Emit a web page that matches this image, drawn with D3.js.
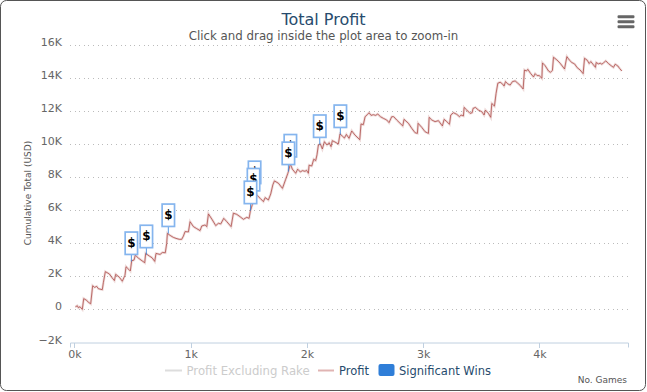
<!DOCTYPE html>
<html>
<head>
<meta charset="utf-8">
<script src="https://cdn.jsdelivr.net/npm/d3@7"></script>
<style>
  body { margin: 0; background: #fff; }
  text { font-family: "DejaVu Sans", sans-serif; }
  .tick line { shape-rendering: crispEdges; }
</style>
</head>
<body>
<div id="container"></div>
<script>
/* CONSTANTS AND DATA */
const width = 647;
const height = 392;

const yTicks = [-2000, 0, 2000, 4000, 6000, 8000, 10000, 12000, 14000, 16000];
const xTicks = [0, 1000, 2000, 3000, 4000];

// profit line
const games = [8,25,34,48,68,80,105,120,140,157,174,192,206,240,249,266,301,321,344,355,387,412,435,444,467,481,493,513,524,550,573,605,613,645,668,691,702,737,757,782,794,800,823,851,874,903,923,938,952,981,995,1024,1052,1081,1096,1124,1139,1153,1187,1216,1239,1259,1285,1311,1348,1368,1397,1425,1454,1483,1503,1514,1524,1532,1541,1550,1569,1598,1626,1641,1669,1689,1707,1721,1755,1790,1818,1835,1841,1858,1875,1904,1921,1944,1961,1984,1998,2013,2019,2042,2059,2076,2087,2099,2116,2133,2151,2173,2191,2208,2219,2242,2271,2285,2305,2323,2340,2363,2386,2414,2455,2466,2486,2501,2518,2535,2552,2572,2592,2610,2633,2658,2687,2707,2730,2747,2773,2802,2825,2836,2874,2902,2931,2951,2957,2988,3017,3046,3052,3075,3103,3132,3166,3181,3204,3227,3238,3261,3290,3313,3327,3347,3353,3376,3404,3422,3430,3450,3476,3505,3525,3536,3562,3582,3591,3614,3628,3643,3663,3683,3697,3709,3729,3749,3769,3792,3815,3838,3861,3872,3890,3901,3924,3950,3964,3981,3999,4022,4027,4050,4079,4096,4113,4122,4151,4179,4217,4237,4257,4280,4303,4326,4351,4377,4389,4412,4429,4443,4466,4483,4489,4509,4524,4538,4552,4572,4595,4618,4638,4653,4676,4690,4710];
const profit = [150,220,100,160,0,650,550,430,340,1430,1330,1390,1250,1190,1610,2280,2140,1940,1740,2120,1940,1700,2060,2580,2420,2320,2940,2980,3280,3100,2980,2820,3380,3220,3120,2900,3380,3320,3440,3420,3990,4590,4470,4350,4290,4230,4230,4430,4700,4680,5300,5000,4880,4760,5040,5100,5000,5770,5400,5060,5200,5160,5500,5300,5000,5810,5740,5600,5440,5560,5500,5950,6170,6370,6730,7170,6910,6710,6510,6750,6610,6970,7520,7760,7620,7310,7860,8190,8320,8790,8470,8220,8470,8300,8380,8340,8400,8220,8710,8660,9070,8990,9330,9930,9990,9690,10130,9930,10070,9830,10190,10110,9990,10600,10470,10350,10570,10330,10780,10530,10250,11200,11160,11640,11750,11880,11720,11760,11720,11800,11640,11540,11440,11280,11640,11640,11440,11240,11080,11480,11240,10940,10670,10630,11240,11000,10730,10630,11600,11440,11340,11400,11080,11480,11340,11180,11740,11880,11780,11640,11740,11680,12200,12040,11840,11880,12140,12200,12040,11940,11740,12040,11840,11600,12440,12280,13050,13660,13720,13620,13490,13760,13620,13550,13760,13800,13660,13510,13310,14460,14400,14500,14260,14040,14240,14120,14120,13960,14890,14720,14400,14320,14440,15230,15070,14870,14520,15270,15070,14910,14830,14600,14460,14240,15170,15050,14850,14970,14770,14620,14910,14830,14870,14810,14890,15010,14850,14720,14620,14810,14700,14560,14400];

// significant wins, later flags go underneath earlier ones
const flagGames = [2288, 2111, 1858, 1841, 1550, 1541, 1515, 808, 619, 490];
const flagProfit = [10560, 9960, 8780, 8320, 7170, 6730, 5960, 4580, 3300, 2890];

const lineData = games.map((g, i) => [g, profit[i]]);
const flagData = flagGames.map((g, i) => [g, flagProfit[i]]);

/* SCALES */
const xScale = d3.scaleLinear()
  .domain([-38, 4763])
  .range([70, 628]);

const yScale = d3.scaleLinear()
  .domain([-2000, 16000])
  .range([342.5, 44.5]);

/* HTML ELEMENTS */
const svg = d3.select("#container")
  .append("svg")
  .attr("width", width)
  .attr("height", height)
  .style("display", "block");

// chart border
svg.append("rect")
  .attr("x", 0.5)
  .attr("y", 0.5)
  .attr("width", 645)
  .attr("height", 390)
  .attr("rx", 6)
  .attr("fill", "#fff")
  .attr("stroke", "#555");

// title
svg.append("text")
  .attr("x", 323.5)
  .attr("y", 25)
  .attr("text-anchor", "middle")
  .attr("font-size", 16)
  .attr("fill", "#274b6d")
  .text("Total Profit");

svg.append("text")
  .attr("x", 323.5)
  .attr("y", 40)
  .attr("text-anchor", "middle")
  .attr("font-size", 11.8)
  .attr("fill", "#555")
  .text("Click and drag inside the plot area to zoom-in");

// y gridlines and labels
const yAxis = d3.axisLeft(yScale)
  .tickValues(yTicks)
  .tickSize(-558)
  .tickPadding(8)
  .tickFormat(d => (d < 0 ? "\u2212" : "") + Math.abs(d) / 1000 + (d === 0 ? "" : "K"));

const yG = svg.append("g")
  .attr("transform", "translate(70, 0)")
  .call(yAxis);

yG.select(".domain").remove();
yG.selectAll(".tick line")
  .attr("stroke", "#bbb")
  .attr("stroke-dasharray", "1,3.6")
  .attr("stroke-opacity", d => d < 0 ? 0 : 1);
yG.selectAll(".tick text")
  .attr("fill", "#666")
  .attr("font-size", 11)
  .attr("dy", "0.05em");

// x axis
const xAxis = d3.axisBottom(xScale)
  .tickValues(xTicks)
  .tickSizeOuter(0)
  .tickSize(5)
  .tickPadding(3)
  .tickFormat(d => d / 1000 + "k");

const xG = svg.append("g")
  .attr("transform", "translate(0, 342.5)")
  .call(xAxis);

xG.select(".domain").attr("stroke", "#c0d0e0");
xG.selectAll(".tick line").attr("stroke", "#c0d0e0");
xG.selectAll(".tick text")
  .attr("fill", "#666")
  .attr("font-size", 11);

// axis titles
svg.append("text")
  .attr("transform", "translate(31, 193) rotate(-90)")
  .attr("text-anchor", "middle")
  .attr("font-size", 9)
  .attr("fill", "#555")
  .text("Cumulative Total (USD)");

svg.append("text")
  .attr("x", 627)
  .attr("y", 383)
  .attr("text-anchor", "end")
  .attr("font-size", 9)
  .attr("fill", "#555")
  .text("No. Games");

// profit line
const line = d3.line()
  .x(d => xScale(d[0]))
  .y(d => yScale(d[1]));

svg.append("path")
  .datum(lineData)
  .attr("fill", "none")
  .attr("stroke", "#aa4643")
  .attr("stroke-opacity", 0.2)
  .attr("stroke-width", 2.5)
  .attr("d", line);

svg.append("path")
  .datum(lineData)
  .attr("fill", "none")
  .attr("stroke", "#aa4643")
  .attr("stroke-opacity", 0.75)
  .attr("stroke-width", 1)
  .attr("d", line);

// flags
const flags = svg.selectAll(".flag")
  .data(flagData)
  .join("g")
  .attr("class", "flag")
  .attr("transform", d => `translate(${xScale(d[0])}, ${yScale(d[1])})`);

flags.append("line")
  .attr("y1", -7)
  .attr("y2", 0)
  .attr("stroke", "#2f7ed8")
  .attr("stroke-opacity", 0.8)
  .attr("stroke-width", 1);

flags.append("rect")
  .attr("x", -6.2)
  .attr("y", -29.5)
  .attr("width", 12.4)
  .attr("height", 22.4)
  .attr("fill", "#fff")
  .attr("stroke", "#85b5ee")
  .attr("stroke-width", 1.7);

flags.append("text")
  .attr("y", -14.5)
  .attr("text-anchor", "middle")
  .attr("font-size", 12)
  .attr("font-weight", "bold")
  .attr("fill", "#000")
  .text("$");

// legend
const legendY = 370.5;
const legend = svg.append("g");

legend.append("line")
  .attr("x1", 165).attr("x2", 182)
  .attr("y1", legendY).attr("y2", legendY)
  .attr("stroke", "#ddd").attr("stroke-width", 2);

legend.append("text")
  .attr("x", 186.5).attr("y", legendY + 4)
  .attr("font-size", 11.7).attr("fill", "#ccc")
  .text("Profit Excluding Rake");

legend.append("line")
  .attr("x1", 318).attr("x2", 334)
  .attr("y1", legendY).attr("y2", legendY)
  .attr("stroke", "#e0b4b3").attr("stroke-width", 2);

legend.append("text")
  .attr("x", 339).attr("y", legendY + 4)
  .attr("font-size", 11.5).attr("fill", "#274b6d")
  .text("Profit");

legend.append("rect")
  .attr("x", 378.5).attr("y", legendY - 6.5)
  .attr("width", 16).attr("height", 12)
  .attr("rx", 2)
  .attr("fill", "#2f7ed8");

legend.append("text")
  .attr("x", 399).attr("y", legendY + 4)
  .attr("font-size", 11.5).attr("fill", "#274b6d")
  .text("Significant Wins");

// menu button
svg.selectAll(".menu-bar")
  .data([16.7, 21.7, 26.7])
  .join("rect")
  .attr("class", "menu-bar")
  .attr("x", 617.5)
  .attr("y", d => d - 1.5)
  .attr("width", 17)
  .attr("height", 3)
  .attr("rx", 1.2)
  .attr("fill", "#666");
</script>
</body>
</html>
